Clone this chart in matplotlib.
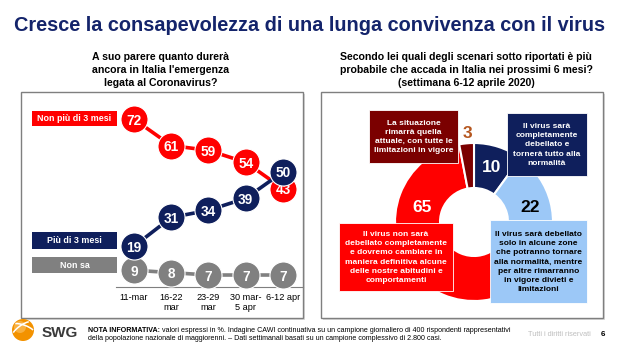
import matplotlib
matplotlib.use("Agg")
import matplotlib.pyplot as plt
from matplotlib.patches import Rectangle, Circle, Arc

W, H = 620, 349

# --- data -------------------------------------------------------------------
weeks = ["11-mar", "16-22\nmar", "23-29\nmar", "30 mar-\n5 apr", "6-12 apr"]
non_piu_3 = [72, 61, 59, 54, 43]
piu_3 = [19, 31, 34, 39, 50]
non_sa = [9, 8, 7, 7, 7]
series_names = ["Non più di 3 mesi", "Più di 3 mesi", "Non sa"]

scenari_values = [10, 22, 65, 3]
scenari_labels = [
    "Il virus sarà\ncompletamente\ndebellato e\ntornerà tutto alla\nnormalità",
    "Il virus sarà debellato\nsolo in alcune zone\nche potranno tornare\nalla normalità, mentre\n"
    "per altre rimarranno\nin vigore divieti e\nlimitazioni",
    "Il virus non sarà\ndebellato completamente\ne dovremo cambiare in\nmaniera definitiva alcune\n"
    "delle nostre abitudini e\ncomportamenti",
    "La situazione\nrimarrà quella\nattuale, con tutte le\nlimitazioni in vigore",
]

title = "Cresce la consapevolezza di una lunga convivenza con il virus"
q_left = "A suo parere quanto durerà\nancora in Italia l'emergenza\nlegata al Coronavirus?"
q_right = ("Secondo lei quali degli scenari sotto riportati è più\n"
           "probabile che accada in Italia nei prossimi 6 mesi?\n(settimana 6-12 aprile 2020)")

RED = "#FF0000"
NAVY = "#0F1F5C"
GRAY = "#808080"
DARKRED = "#7B0000"
LIGHTBLUE = "#9CC8F7"
TITLE_C = "#14246B"

plt.rcParams["font.family"] = ["Liberation Sans", "DejaVu Sans"]

fig = plt.figure(figsize=(W / 100, H / 100), dpi=100)


def px_axes(x0, y0, x1, y1):
    return fig.add_axes([x0 / W, 1 - y1 / H, (x1 - x0) / W, (y1 - y0) / H])


def page_axes():
    a = fig.add_axes([0, 0, 1, 1])
    a.set_xlim(0, W)
    a.set_ylim(H, 0)
    a.set_axis_off()
    return a


bg = page_axes()

bg.text(310, 25.5, title, ha="center", va="center", color=TITLE_C,
        fontsize=14.3, fontweight="bold")
bg.text(161, 70, q_left, ha="center", va="center", fontsize=7.55,
        fontweight="bold", linespacing=1.4)
bg.text(466, 70, q_right, ha="center", va="center", fontsize=7.55,
        fontweight="bold", linespacing=1.4)

for x0 in (21, 321):
    bg.add_patch(Rectangle((x0 + 2, 94), 282, 226, fc="#D9D9D9", ec="none"))
    bg.add_patch(Rectangle((x0, 92), 282, 226, fc="white", ec="#7F7F7F", lw=1))

# --- line chart ---------------------------------------------------------------
ax = px_axes(116, 100, 303, 287)
ax.set_xlim(-0.483, 4.537)
ax.set_ylim(2, 80)
x = list(range(len(weeks)))
for vals, col, z in [(non_sa, GRAY, 3), (non_piu_3, RED, 4), (piu_3, NAVY, 5)]:
    ax.plot(x, vals, color=col, lw=2.6, zorder=z, clip_on=False)
    ax.plot(x, vals, ls="none", marker="o", ms=19.5, mfc=col, mec="white",
            mew=0.8, zorder=z, clip_on=False)
    for i, v in enumerate(vals):
        ax.text(i, v, str(v), ha="center", va="center_baseline", color="white",
                fontsize=9.8, fontweight="bold", zorder=z + 0.5)
ax.set_xticks(x)
ax.set_xticklabels(weeks, fontsize=6.6, linespacing=1.2)
ax.tick_params(axis="x", length=0, pad=4)
ax.set_yticks([])
for s in ("top", "left", "right"):
    ax.spines[s].set_visible(False)
ax.spines["bottom"].set_color("#7F7F7F")
ax.patch.set_visible(False)

# --- donut -------------------------------------------------------------------
dax = px_axes(384, 132, 564, 312)
dax.pie(scenari_values, colors=[NAVY, LIGHTBLUE, RED, DARKRED], startangle=90,
        counterclock=False, radius=79,
        wedgeprops=dict(width=45, edgecolor="white", linewidth=1.5))
dax.set_xlim(-90, 90)
dax.set_ylim(-90, 90)
dax.set_aspect("equal")
dax.set_axis_off()

# --- overlay: labels and boxes ------------------------------------------------
fg = page_axes()

legend_boxes = [(111, 15, RED), (232, 17, NAVY), (257, 16, GRAY)]
for name, (y0, h, col) in zip(series_names, legend_boxes):
    fg.add_patch(Rectangle((32, y0), 85, h, fc=col, ec="none"))
    fg.text(74.5, y0 + h / 2, name, ha="center", va="center", color="white",
            fontsize=6.4, fontweight="bold")

# donut value labels
value_pos = [(492, 168, "white"), (530, 208, "black"), (422, 208, "white"), (467, 133, "#B5561E")]
for v, (px, py, col) in zip(scenari_values, value_pos):
    fg.text(px, py, str(v), ha="center", va="center", color=col,
            fontsize=12.5, fontweight="bold")

# scenario boxes (x0, y0, x1, y1)
scen_boxes = [(507, 113, 587, 176, NAVY, "white"),
              (490, 220, 587, 303, LIGHTBLUE, "black"),
              (339, 223, 453, 291, RED, "white"),
              (369, 110, 458, 163, DARKRED, "white")]
for lab, (x0, y0, x1, y1, fc, tc) in zip(scenari_labels, scen_boxes):
    fg.add_patch(Rectangle((x0, y0), x1 - x0, y1 - y0, fc=fc, ec="white", lw=0.6))
    fg.text((x0 + x1) / 2, (y0 + y1) / 2 + 0.5, lab, ha="center", va="center",
            color=tc, fontsize=6.05, fontweight="bold", linespacing=1.41)

# --- footer -------------------------------------------------------------------
fg.add_patch(Circle((23, 330), 11, fc="#F39200", ec="none"))
fg.add_patch(Circle((20, 327), 6, fc="#F8B040", ec="none"))
for ang in (-35, 20):
    fg.add_patch(Arc((23, 330), 26, 10, angle=ang, theta1=200, theta2=340,
                     color="white", lw=1.1))
fg.text(42, 333, "SWG", ha="left", va="center", fontsize=11, fontweight="bold",
        color="#3A3A3A")

renderer = fig.canvas.get_renderer()
nota = fg.text(88, 330, "NOTA INFORMATIVA:", ha="left", va="center",
               fontsize=5.1, fontweight="bold")
bb = nota.get_window_extent(renderer)
fig.text((bb.x1 + 2) / W, 1 - 330 / H, "valori espressi in %. Indagine CAWI continuativa su un campione "
         "giornaliero di 400 rispondenti rappresentativi", ha="left", va="center", fontsize=5.1)
fg.text(88, 339, "della popolazione nazionale di maggiorenni. – Dati settimanali basati su un "
        "campione complessivo di 2.800 casi.", ha="left", va="center", fontsize=5.1)
fg.text(559, 334, "Tutti i diritti riservati", ha="center", va="center",
        fontsize=5.3, color="#BFBFBF")
fg.text(603, 334, "6", ha="center", va="center", fontsize=5.7, fontweight="bold")

fig.savefig("out.png", dpi=100)
